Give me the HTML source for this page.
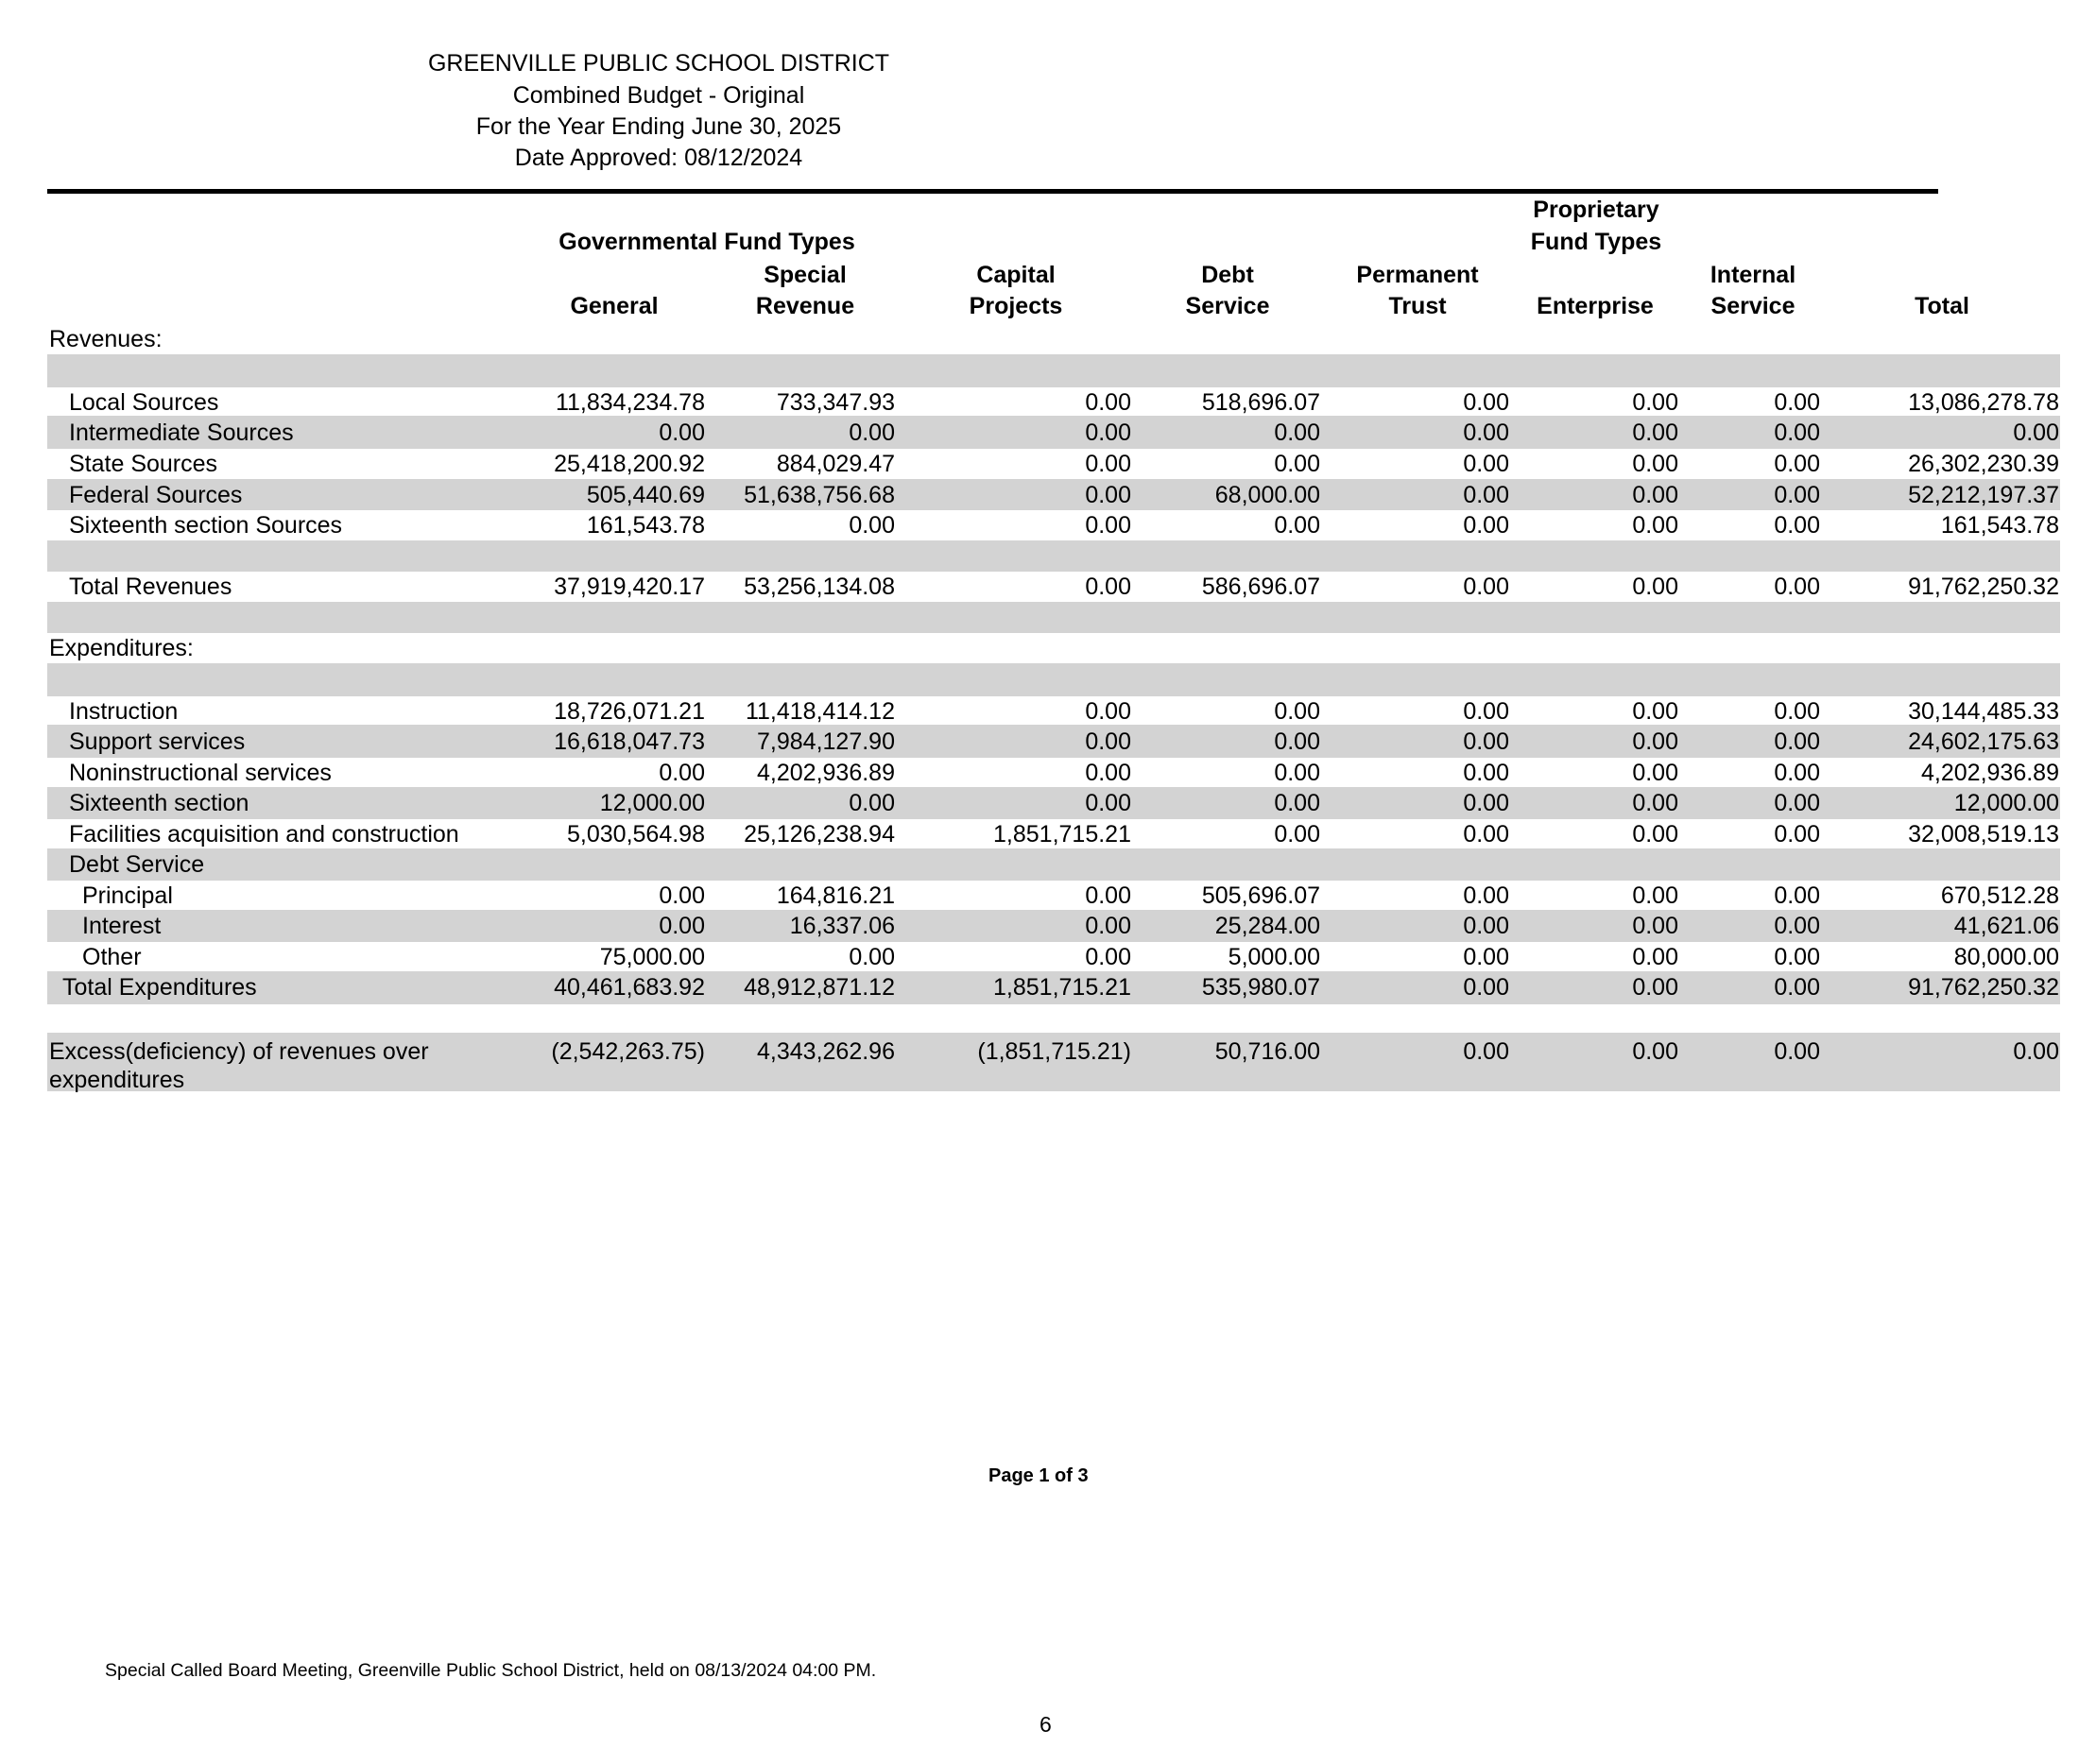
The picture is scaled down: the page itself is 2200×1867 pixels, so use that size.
<!DOCTYPE html>
<html><head><meta charset="utf-8"><style>
body{margin:0;background:#fff;}
#page{position:relative;width:2200px;height:1867px;overflow:hidden;font-family:"Liberation Sans",Arial,sans-serif;color:#000;}
.t{position:absolute;white-space:nowrap;}
.ttl{position:absolute;left:347px;width:700px;text-align:center;font-size:25px;}
.row{position:absolute;left:50px;width:2130px;font-size:25px;}
.g{background:#d3d3d3;}
.row span{position:absolute;white-space:nowrap;}
.l0{left:2px}.l1{left:23px}.l2{left:37px}.lt{left:16px}
.c1{right:1434px}.c2{right:1233px}.c3{right:983px}.c4{right:783px}.c5{right:583px}.c6{right:404px}.c7{right:254px}.c8{right:1px}
.h{position:absolute;font-weight:bold;font-size:25px;white-space:nowrap;transform:translateX(-50%);}
</style></head><body>
<div id="page">
<div class="ttl" style="top:53px">GREENVILLE PUBLIC SCHOOL DISTRICT</div>
<div class="ttl" style="top:87px">Combined Budget - Original</div>
<div class="ttl" style="top:120px">For the Year Ending June 30, 2025</div>
<div class="ttl" style="top:153px">Date Approved: 08/12/2024</div>
<div style="position:absolute;left:50px;top:200px;width:2001px;height:5px;background:#000"></div>

<div class="h" style="left:1689px;top:208px">Proprietary</div>
<div class="h" style="left:1689px;top:242px">Fund Types</div>
<div class="h" style="left:748px;top:242px">Governmental Fund Types</div>
<div class="h" style="left:852px;top:277px">Special</div>
<div class="h" style="left:1075px;top:277px">Capital</div>
<div class="h" style="left:1299px;top:277px">Debt</div>
<div class="h" style="left:1500px;top:277px">Permanent</div>
<div class="h" style="left:1855px;top:277px">Internal</div>
<div class="h" style="left:650px;top:310px">General</div>
<div class="h" style="left:852px;top:310px">Revenue</div>
<div class="h" style="left:1075px;top:310px">Projects</div>
<div class="h" style="left:1299px;top:310px">Service</div>
<div class="h" style="left:1500px;top:310px">Trust</div>
<div class="h" style="left:1688px;top:310px">Enterprise</div>
<div class="h" style="left:1855px;top:310px">Service</div>
<div class="h" style="left:2055px;top:310px">Total</div>

<div class="row" style="top:343px;height:33px;line-height:33px"><span class="l0">Revenues:</span></div>
<div class="row g" style="top:375px;height:35px"></div>
<div class="row" style="top:410px;height:30px;line-height:33px"><span class="l1">Local Sources</span><span class="c1">11,834,234.78</span><span class="c2">733,347.93</span><span class="c3">0.00</span><span class="c4">518,696.07</span><span class="c5">0.00</span><span class="c6">0.00</span><span class="c7">0.00</span><span class="c8">13,086,278.78</span></div>
<div class="row g" style="top:440px;height:35px;line-height:36px"><span class="l1">Intermediate Sources</span><span class="c1">0.00</span><span class="c2">0.00</span><span class="c3">0.00</span><span class="c4">0.00</span><span class="c5">0.00</span><span class="c6">0.00</span><span class="c7">0.00</span><span class="c8">0.00</span></div>
<div class="row" style="top:475px;height:32px;line-height:33px"><span class="l1">State Sources</span><span class="c1">25,418,200.92</span><span class="c2">884,029.47</span><span class="c3">0.00</span><span class="c4">0.00</span><span class="c5">0.00</span><span class="c6">0.00</span><span class="c7">0.00</span><span class="c8">26,302,230.39</span></div>
<div class="row g" style="top:507px;height:33px;line-height:34px"><span class="l1">Federal Sources</span><span class="c1">505,440.69</span><span class="c2">51,638,756.68</span><span class="c3">0.00</span><span class="c4">68,000.00</span><span class="c5">0.00</span><span class="c6">0.00</span><span class="c7">0.00</span><span class="c8">52,212,197.37</span></div>
<div class="row" style="top:540px;height:32px;line-height:33px"><span class="l1">Sixteenth section Sources</span><span class="c1">161,543.78</span><span class="c2">0.00</span><span class="c3">0.00</span><span class="c4">0.00</span><span class="c5">0.00</span><span class="c6">0.00</span><span class="c7">0.00</span><span class="c8">161,543.78</span></div>
<div class="row g" style="top:572px;height:33px"></div>
<div class="row" style="top:605px;height:32px;line-height:33px"><span class="l1">Total Revenues</span><span class="c1">37,919,420.17</span><span class="c2">53,256,134.08</span><span class="c3">0.00</span><span class="c4">586,696.07</span><span class="c5">0.00</span><span class="c6">0.00</span><span class="c7">0.00</span><span class="c8">91,762,250.32</span></div>
<div class="row g" style="top:637px;height:33px"></div>
<div class="row" style="top:670px;height:32px;line-height:33px"><span class="l0">Expenditures:</span></div>
<div class="row g" style="top:702px;height:35px"></div>
<div class="row" style="top:737px;height:30px;line-height:33px"><span class="l1">Instruction</span><span class="c1">18,726,071.21</span><span class="c2">11,418,414.12</span><span class="c3">0.00</span><span class="c4">0.00</span><span class="c5">0.00</span><span class="c6">0.00</span><span class="c7">0.00</span><span class="c8">30,144,485.33</span></div>
<div class="row g" style="top:767px;height:35px;line-height:36px"><span class="l1">Support services</span><span class="c1">16,618,047.73</span><span class="c2">7,984,127.90</span><span class="c3">0.00</span><span class="c4">0.00</span><span class="c5">0.00</span><span class="c6">0.00</span><span class="c7">0.00</span><span class="c8">24,602,175.63</span></div>
<div class="row" style="top:802px;height:31px;line-height:32px"><span class="l1">Noninstructional services</span><span class="c1">0.00</span><span class="c2">4,202,936.89</span><span class="c3">0.00</span><span class="c4">0.00</span><span class="c5">0.00</span><span class="c6">0.00</span><span class="c7">0.00</span><span class="c8">4,202,936.89</span></div>
<div class="row g" style="top:833px;height:34px;line-height:35px"><span class="l1">Sixteenth section</span><span class="c1">12,000.00</span><span class="c2">0.00</span><span class="c3">0.00</span><span class="c4">0.00</span><span class="c5">0.00</span><span class="c6">0.00</span><span class="c7">0.00</span><span class="c8">12,000.00</span></div>
<div class="row" style="top:867px;height:31px;line-height:32px"><span class="l1">Facilities acquisition and construction</span><span class="c1">5,030,564.98</span><span class="c2">25,126,238.94</span><span class="c3">1,851,715.21</span><span class="c4">0.00</span><span class="c5">0.00</span><span class="c6">0.00</span><span class="c7">0.00</span><span class="c8">32,008,519.13</span></div>
<div class="row g" style="top:898px;height:34px;line-height:35px"><span class="l1">Debt Service</span></div>
<div class="row" style="top:932px;height:31px;line-height:33px"><span class="l2">Principal</span><span class="c1">0.00</span><span class="c2">164,816.21</span><span class="c3">0.00</span><span class="c4">505,696.07</span><span class="c5">0.00</span><span class="c6">0.00</span><span class="c7">0.00</span><span class="c8">670,512.28</span></div>
<div class="row g" style="top:963px;height:34px;line-height:35px"><span class="l2">Interest</span><span class="c1">0.00</span><span class="c2">16,337.06</span><span class="c3">0.00</span><span class="c4">25,284.00</span><span class="c5">0.00</span><span class="c6">0.00</span><span class="c7">0.00</span><span class="c8">41,621.06</span></div>
<div class="row" style="top:997px;height:31px;line-height:32px"><span class="l2">Other</span><span class="c1">75,000.00</span><span class="c2">0.00</span><span class="c3">0.00</span><span class="c4">5,000.00</span><span class="c5">0.00</span><span class="c6">0.00</span><span class="c7">0.00</span><span class="c8">80,000.00</span></div>
<div class="row g" style="top:1028px;height:35px;line-height:35px"><span class="lt">Total Expenditures</span><span class="c1">40,461,683.92</span><span class="c2">48,912,871.12</span><span class="c3">1,851,715.21</span><span class="c4">535,980.07</span><span class="c5">0.00</span><span class="c6">0.00</span><span class="c7">0.00</span><span class="c8">91,762,250.32</span></div>
<div class="row g" style="top:1093px;height:62px;line-height:30px"><span class="l0" style="top:5px">Excess(deficiency) of revenues over<br>expenditures</span><span class="c1" style="top:5px">(2,542,263.75)</span><span class="c2" style="top:5px">4,343,262.96</span><span class="c3" style="top:5px">(1,851,715.21)</span><span class="c4" style="top:5px">50,716.00</span><span class="c5" style="top:5px">0.00</span><span class="c6" style="top:5px">0.00</span><span class="c7" style="top:5px">0.00</span><span class="c8" style="top:5px">0.00</span></div>

<div class="t" style="left:1046px;top:1551px;font-size:20px;font-weight:bold">Page 1 of 3</div>
<div class="t" style="left:111px;top:1757px;font-size:19.5px">Special Called Board Meeting, Greenville Public School District, held on 08/13/2024 04:00 PM.</div>
<div class="t" style="left:1100px;top:1812px;font-size:23px">6</div>
</div>
</body></html>
